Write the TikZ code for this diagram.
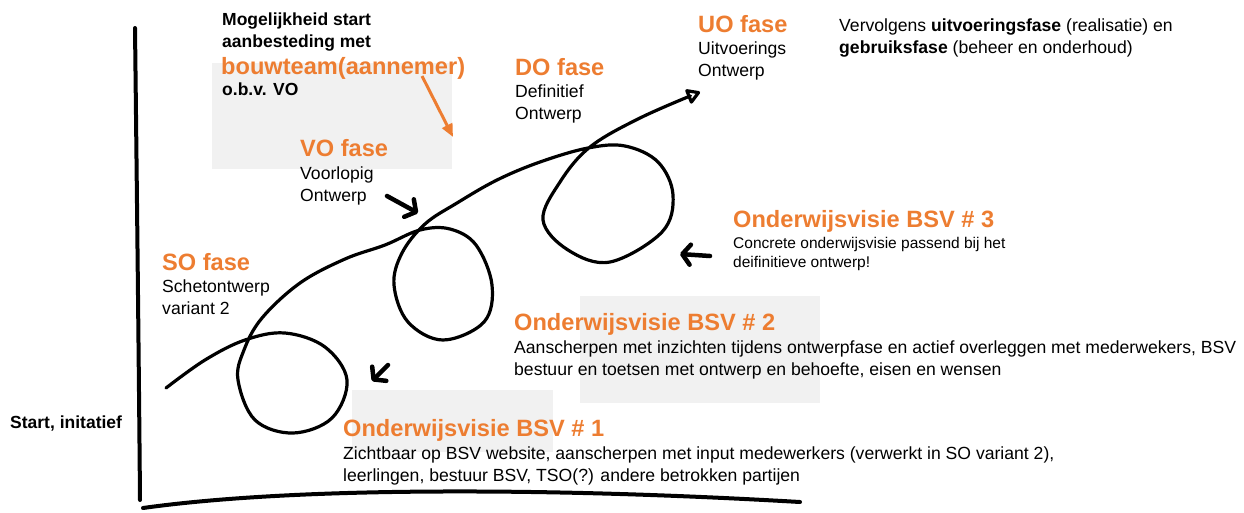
\documentclass[tikz,border=0pt]{standalone}
\usepackage{fontspec}
\setmainfont{Liberation Sans}
\usepackage{tikz}
\usetikzlibrary{arrows.meta}
\definecolor{boOrange}{RGB}{237,125,49}
\definecolor{boGray}{RGB}{241,241,241}
\tikzset{
    phasehead/.style={
        font=\fontsize{23.6}{27}\selectfont\bfseries,
        text=boOrange,
        anchor=base west,
        inner sep=0pt
    },
    phasetext/.style={
        font=\fontsize{17.6}{22}\selectfont,
        align=left,
        anchor=base west,
        inner sep=0pt
    },
    smalltext/.style={
        font=\fontsize{15.5}{18.5}\selectfont,
        align=left,
        anchor=base west,
        inner sep=0pt
    },
    remark/.style={
        font=\fontsize{17.5}{22}\selectfont\bfseries,
        align=left,
        anchor=base west,
        inner sep=0pt
    },
    sketch/.style={
        line width=3.2pt,
        line cap=round,
        line join=round
    },
    axisline/.style={
        line width=4pt,
        line cap=round
    },
    pointer/.style={
        line width=4.5pt,
        line cap=round,
        -{Straight Barb[length=8pt,width=20pt,round]}
    },
    shade/.style={
        fill=boGray,
        draw=none
    }
}

\begin{document}
\begin{tikzpicture}[x=1pt, y=-1pt]
  \useasboundingbox (0,0) rectangle (1244,512);

  % Grey blocks behind the texts
  \fill[shade] (212,63) rectangle (452,169);
  \fill[shade] (580,296) rectangle (820,403);
  \fill[shade] (352,390) rectangle (553,452);

  % Axes
  \draw[axisline] (135,28) .. controls (137,200) and (139,380) .. (140,500);
  \draw[axisline] (143,508) .. controls (300,486) and (560,488) .. (800,502);

  % Route with the three loops
  \draw[sketch, -{Triangle[open,length=15pt,width=17pt,round]}] plot[smooth, tension=0.6] coordinates {
    (166,388) (205,360) (245,340) (285,333) (325,347) (347,380) (332,418) (293,433)
    (255,420) (238,380) (244,350) (262,318) (300,283) (345,259) (385,245) (420,230)
    (450,229) (476,245) (492,285) (484,322) (443,340) (408,322) (394,285) (402,253)
    (425,224) (457,203) (497,180) (540,162) (588,148) (625,146) (658,162) (673,195)
    (662,232) (610,262) (568,250) (543,220) (560,182) (590,147) (640,118) (700,92)};

  % Texts (multi-line nodes sit on their last line)
  \node[remark] (mog) at (222,47) {Mogelijkheid start\\aanbesteding met};
  \node[phasehead] (bouw) at (221,74) {bouwteam(aannemer)};
  \node[remark] (obv) at (222,95) {o.b.v. VO};

  \node[phasehead] (vo) at (300,156) {VO fase};
  \node[phasetext] (votext) at (300,201) {Voorlopig\\Ontwerp};
  \node[phasehead] (do) at (515,75) {DO fase};
  \node[phasetext] (dotext) at (515,119) {Definitief\\Ontwerp};
  \node[phasehead] (uo) at (698,32) {UO fase};
  \node[phasetext] (uotext) at (698,76) {Uitvoerings\\Ontwerp};
  \node[phasetext] (next) at (839,53) {Vervolgens \textbf{uitvoeringsfase} (realisatie) en\\\textbf{gebruiksfase} (beheer en onderhoud)};
  \node[phasehead] (so) at (162,270) {SO fase};
  \node[phasetext] (sotext) at (162,314) {Schetontwerp\\variant 2};

  \node[phasehead] (bsv3) at (733,227) {Onderwijsvisie BSV \# 3};
  \node[smalltext] (bsv3text) at (733,267) {Concrete onderwijsvisie passend bij het\\deifinitieve ontwerp!};
  \node[phasehead] (bsv2) at (514,330) {Onderwijsvisie BSV \# 2};
  \node[phasetext] (bsv2text) at (514,375) {Aanscherpen met inzichten tijdens ontwerpfase en actief overleggen met mederwekers, BSV\\bestuur en toetsen met ontwerp en behoefte, eisen en wensen};
  \node[phasehead] (bsv1) at (343,436) {Onderwijsvisie BSV \# 1};
  \node[phasetext] (bsv1text) at (343,481) {Zichtbaar op BSV website, aanscherpen met input medewerkers (verwerkt in SO variant 2),\\leerlingen, bestuur BSV, TSO(?) andere betrokken partijen};
  \node[remark] (start) at (10,428) {Start, initatief};

  % Arrows
  \coordinate (bouwfrom) at (422,76);
  \coordinate (bouwtip) at (453,137);
  \draw[line width=3pt, boOrange, -{Triangle[length=13pt,width=11pt]}] (bouwfrom) -- (bouwtip);

  \coordinate (vofrom) at (387,196);
  \coordinate (votip) at (418,213);
  \draw[pointer] (vofrom) -- (votip);
  \coordinate (bsv1from) at (388,365);
  \coordinate (bsv1tip) at (372,381);
  \draw[pointer] (bsv1from) -- (bsv1tip);
  \coordinate (bsv3from) at (710,256);
  \coordinate (bsv3tip) at (680,254);
  \draw[pointer] (bsv3from) -- (bsv3tip);
\end{tikzpicture}
\end{document}
